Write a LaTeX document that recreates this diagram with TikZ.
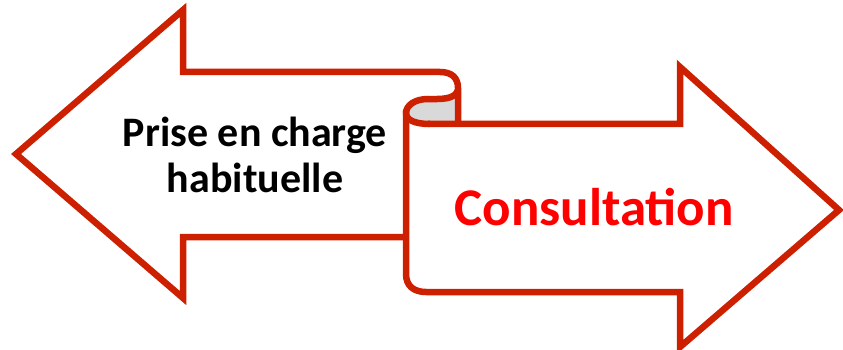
\documentclass[tikz,border=0pt]{standalone}
\usepackage{fontspec}
\setmainfont{Carlito}
\definecolor{arrowred}{RGB}{204,32,0}
\definecolor{txtred}{RGB}{255,0,0}
\definecolor{curlgrey}{RGB}{217,217,217}
\tikzset{
  outline/.style={draw=arrowred, line width=6.5pt, line join=miter, miter limit=10},
  blacktext/.style={font=\fontsize{42}{46}\selectfont\bfseries, text=black, align=center, inner sep=0pt},
  redtext/.style={font=\fontsize{53}{57}\selectfont\bfseries, text=txtred, inner sep=0pt}
}
\begin{document}
\begin{tikzpicture}[x=1pt,y=-1pt]
\useasboundingbox (0,0) rectangle (843,350);
% grey inside of the scroll curl
\fill[curlgrey] (458,92) .. controls (455,100) and (440,99) .. (428,99)
  .. controls (414,99) and (408,106) .. (408,112)
  .. controls (408,120) and (415,124) .. (428,124) -- (458,124) -- cycle;
% left arrow
\draw[outline] (406,237) -- (183,237) -- (183,298) -- (16,154) -- (183,10) -- (183,72)
  -- (440,72) .. controls (452,72) and (458,78) .. (458,88) -- (458,124);
% right arrow
\draw[outline] (428,124) -- (680,124) -- (680,67) -- (839,210) -- (680,347) -- (680,292)
  -- (426,292) .. controls (414,292) and (406,286) .. (406,274) -- (406,110);
% scroll curl
\draw[outline, line join=round] (458,90) .. controls (455,100) and (440,99) .. (428,99)
  .. controls (414,99) and (406,106) .. (406,113)
  .. controls (406,120) and (415,124) .. (430,124);
\node[blacktext] (prise) at (255,155) {Prise en charge\\habituelle};
\node[redtext, anchor=base] (consult) at (594,225) {Consultation};
\end{tikzpicture}
\end{document}
